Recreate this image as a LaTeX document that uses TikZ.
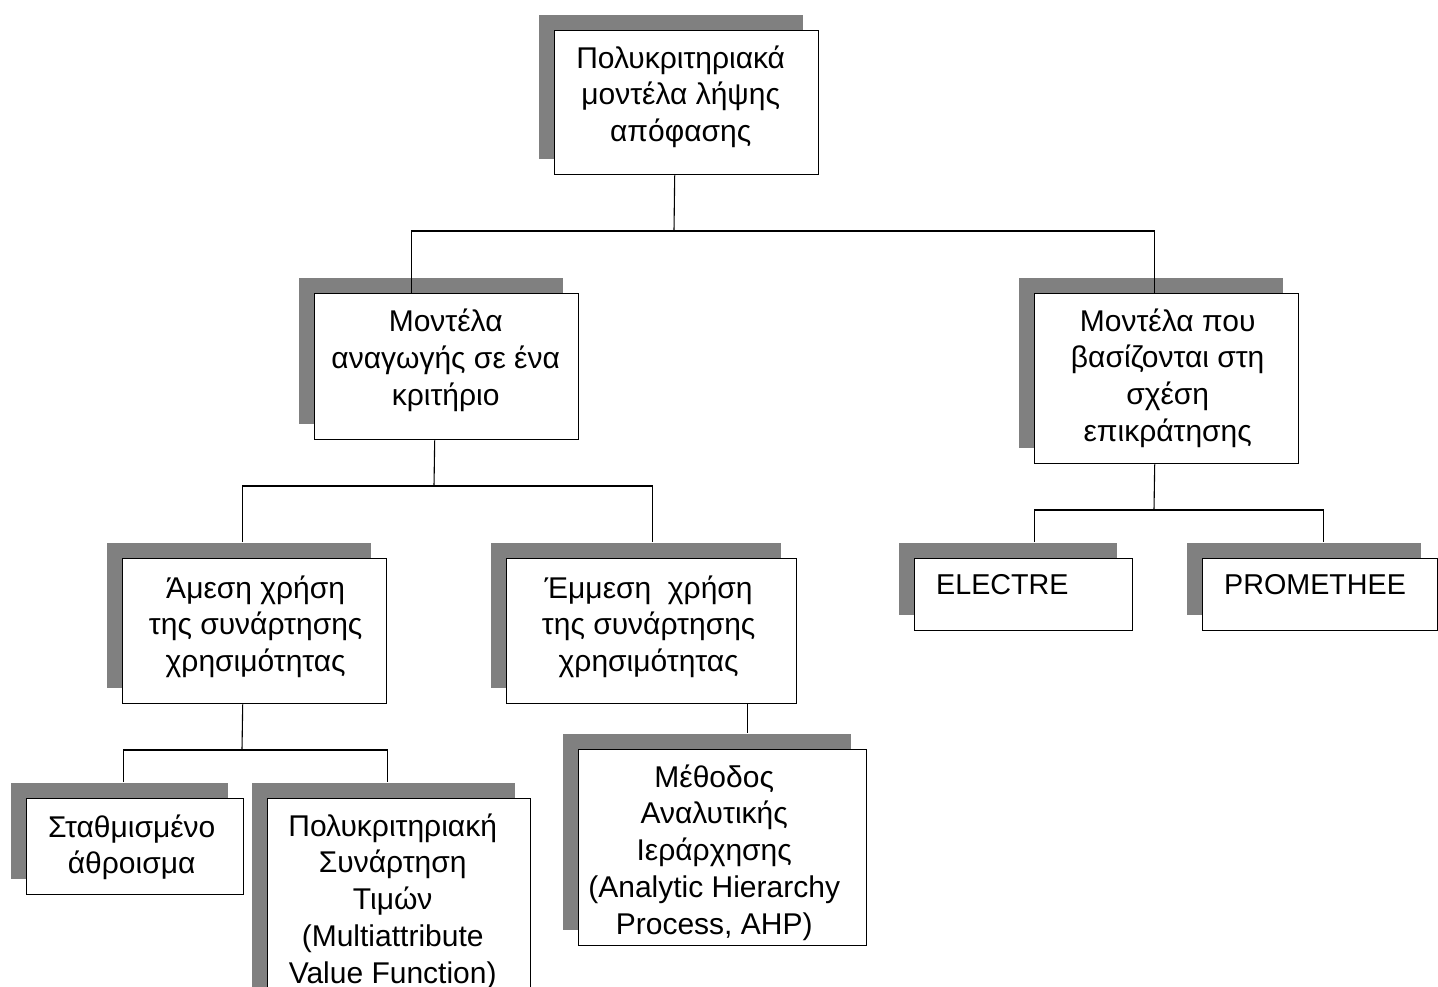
\documentclass[tikz,border=0pt]{standalone}
\usepackage{fontspec}
\setmainfont{Liberation Sans}
\usetikzlibrary{shadows}
\definecolor{shadowgray}{RGB}{128,128,128}

\begin{document}
\begin{tikzpicture}[x=1pt,y=-1pt,
  box/.style={draw=black, line width=1.4pt, fill=white, inner sep=0pt,
    anchor=north west,
    general shadow={fill=shadowgray, shadow xshift=-16pt, shadow yshift=16pt}},
  lbl/.style={inner sep=0pt, anchor=north, align=center,
    font=\fontsize{30}{36.7}\selectfont},
  lbll/.style={inner sep=0pt, anchor=north west, align=left,
    font=\fontsize{28.7}{36.7}\selectfont},
  conn/.style={line width=1.1pt, draw=black}]

\useasboundingbox (0,0) rectangle (1438,987);
\clip (0,0) rectangle (1438,987);

% boxes
\node[box, minimum width=264pt, minimum height=144pt] (top) at (554,30) {};
\node[box, minimum width=264pt, minimum height=146pt] (m1) at (314,293) {};
\node[box, minimum width=264pt, minimum height=170pt] (m2) at (1034,293) {};
\node[box, minimum width=264pt, minimum height=145pt] (c1) at (122,558) {};
\node[box, minimum width=290pt, minimum height=145pt] (c2) at (506,558) {};
\node[box, minimum width=218pt, minimum height=72pt]  (e1) at (914,558) {};
\node[box, minimum width=234.5pt, minimum height=72pt] (e2) at (1202,558) {};
\node[box, minimum width=217pt, minimum height=96pt]  (d1) at (26,798) {};
\node[box, minimum width=263pt, minimum height=210pt] (d2) at (267,798) {};
\node[box, minimum width=288pt, minimum height=196pt] (f)  at (578,749) {};

% labels (first-line strut of 25pt puts the baseline 25pt below the node top)
\node[lbl] (topt) at ([xshift=-6pt,yshift=-13pt]top.north)
  {\rule{0pt}{25pt}Πολυκριτηριακά\\μοντέλα λήψης\\απόφασης};
\node[lbl] (m1t) at ([xshift=-1pt,yshift=-13.7pt]m1.north)
  {\rule{0pt}{25pt}Μοντέλα\\αναγωγής σε ένα\\κριτήριο};
\node[lbl] (m2t) at ([xshift=1pt,yshift=-13pt]m2.north)
  {\rule{0pt}{25pt}Μοντέλα που\\βασίζονται στη\\σχέση\\επικράτησης};
\node[lbl] (c1t) at ([xshift=1pt,yshift=-15pt]c1.north)
  {\rule{0pt}{25pt}Άμεση χρήση\\της συνάρτησης\\χρησιμότητας};
\node[lbl] (c2t) at ([xshift=-3pt,yshift=-15pt]c2.north)
  {\rule{0pt}{25pt}Έμμεση\ \ χρήση\\της συνάρτησης\\χρησιμότητας};
\node[lbll] (e1t) at ([xshift=22pt,yshift=-11pt]e1.north west)
  {\rule{0pt}{25pt}ELECTRE};
\node[lbll] (e2t) at ([xshift=22pt,yshift=-11pt]e2.north west)
  {\rule{0pt}{25pt}PROMETHEE};
\node[lbl] (d1t) at ([xshift=-3.5pt,yshift=-14pt]d1.north)
  {\rule{0pt}{25pt}Σταθμισμένο\\άθροισμα};
\node[lbl] (d2t) at ([xshift=-6.5pt,yshift=-13pt]d2.north)
  {\rule{0pt}{25pt}Πολυκριτηριακή\\Συνάρτηση\\Τιμών\\(Multiattribute\\Value Function)};
\node[lbl] (ft) at ([xshift=-8.5pt,yshift=-13pt]f.north)
  {\rule{0pt}{25pt}Μέθοδος\\Αναλυτικής\\Ιεράρχησης\\(Analytic Hierarchy\\Process, AHP)};

% connectors
\coordinate (j1) at (674,231);
\coordinate (j2) at (434,486);
\coordinate (j3) at (1154,510);
\coordinate (j4) at (242,750);

\draw[conn] ([xshift=-12pt]top.south) -- (j1);
\draw[conn] ([xshift=-35pt]m1.north) |- (j1) -| ([xshift=-12pt]m2.north);

\draw[conn] ([xshift=-12pt]m1.south) -- (j2);
\draw[conn] ([xshift=-12pt,yshift=16pt]c1.north) |- (j2) -| ([xshift=1pt,yshift=16pt]c2.north);

\draw[conn] ([xshift=-12pt]m2.south) -- (j3);
\draw[conn] ([xshift=11pt,yshift=16pt]e1.north) |- (j3) -| ([xshift=3.75pt,yshift=16pt]e2.north);

\draw[conn] ([xshift=-12pt]c1.south) -- (j4);
\draw[conn] ([xshift=-11.5pt,yshift=16pt]d1.north) |- (j4) -| ([xshift=-11.5pt,yshift=16pt]d2.north);

\draw[conn] ([xshift=96pt]c2.south) -- ([xshift=25pt,yshift=16pt]f.north);
\end{tikzpicture}
\end{document}
